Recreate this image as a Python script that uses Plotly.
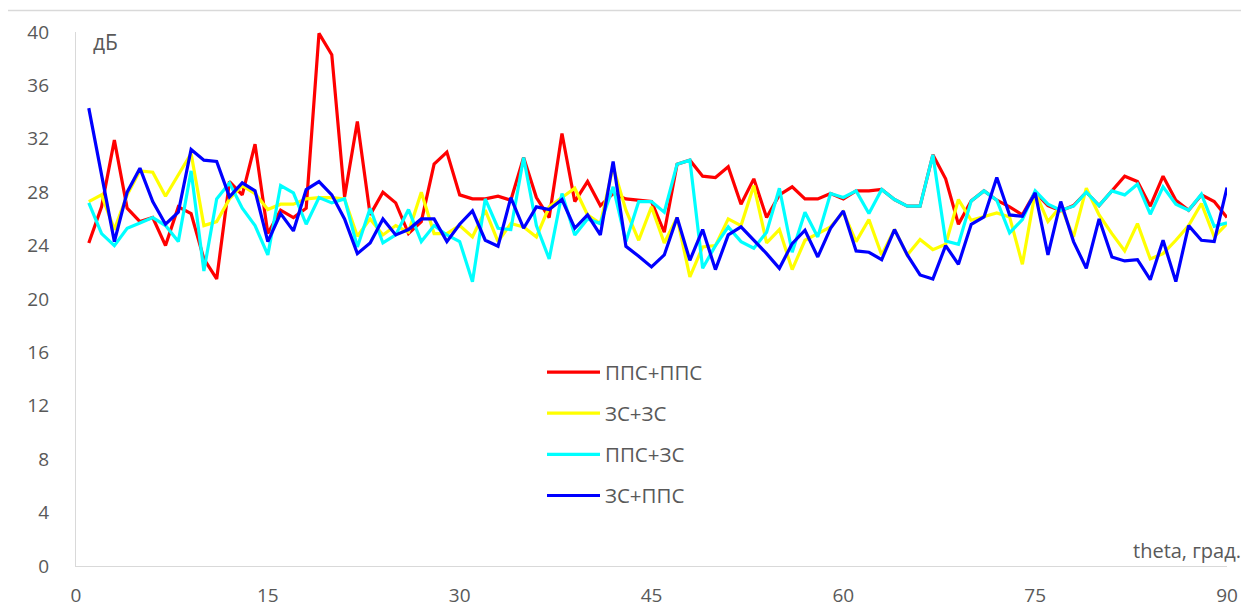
import plotly.graph_objects as go

theta = list(range(1, 91))

pps_pps = [24.2, 26.9, 31.9, 26.8, 25.8, 26.1, 24.0, 26.9, 26.4, 23.0,
           21.5, 28.8, 27.8, 31.6, 24.9, 26.65, 26.1, 26.8, 39.9, 38.3,
           27.65, 33.3, 26.3, 28.0, 27.2, 24.9, 25.8, 30.1, 31.0, 27.8,
           27.5, 27.5, 27.7, 27.4, 30.6, 27.6, 26.1, 32.4, 27.3, 28.8,
           27.0, 27.9, 27.5, 27.4, 27.3, 25.0, 30.1, 30.4, 29.2, 29.1,
           29.9, 27.1, 29.0, 26.1, 27.8, 28.4, 27.5, 27.5, 27.9, 27.5,
           28.1, 28.1, 28.2, 27.45, 26.95, 26.95, 30.8, 29.0, 25.6, 27.35,
           28.1, 27.4, 26.9, 26.3, 28.0, 27.0, 26.6, 27.0, 28.0, 27.0,
           28.1, 29.2, 28.8, 26.95, 29.2, 27.4, 26.65, 27.8, 27.3, 26.1]

zs_zs = [27.3, 27.8, 25.2, 27.8, 29.6, 29.5, 27.7, 29.3, 30.9, 25.5,
         25.8, 27.5, 28.5, 27.9, 26.7, 27.1, 27.1, 27.5, 27.6, 27.6,
         27.5, 24.7, 26.0, 24.8, 25.5, 25.0, 28.0, 24.9, 24.9, 25.5,
         24.65, 26.65, 24.3, 25.65, 25.4, 24.65, 26.9, 27.6, 28.3, 26.3,
         25.65, 29.9, 26.65, 24.4, 26.9, 24.2, 26.1, 21.65, 23.9, 24.0,
         26.0, 25.5, 28.5, 24.2, 25.2, 22.2, 24.4, 24.9, 25.4, 26.5,
         24.3, 25.95, 23.3, 25.2, 23.3, 24.45, 23.7, 24.1, 27.45, 25.9,
         26.15, 26.45, 26.15, 22.6, 28.0, 25.8, 26.95, 24.65, 28.3, 26.3,
         24.9, 23.6, 25.65, 23.0, 23.4, 24.4, 25.5, 27.15, 24.65, 25.65]

pps_zs = [27.2, 24.9, 24.0, 25.3, 25.7, 26.1, 25.5, 24.3, 29.6, 22.1,
          27.5, 28.7, 26.8, 25.5, 23.3, 28.5, 27.95, 25.6, 27.6, 27.2,
          27.5, 23.9, 26.8, 24.2, 24.8, 26.7, 24.3, 25.5, 24.8, 24.3,
          21.3, 27.5, 25.3, 25.2, 30.6, 25.5, 23.0, 27.9, 24.8, 26.0,
          25.65, 28.4, 24.3, 27.3, 27.3, 26.5, 30.1, 30.4, 22.3, 24.0,
          25.4, 24.3, 23.8, 25.0, 28.3, 23.5, 26.5, 24.65, 27.9, 27.6,
          28.1, 26.4, 28.2, 27.45, 26.95, 26.95, 30.8, 24.35, 24.1, 27.35,
          28.1, 27.4, 24.95, 25.95, 28.1, 27.1, 26.65, 26.95, 28.0, 27.0,
          28.1, 27.8, 28.6, 26.35, 28.4, 27.1, 26.65, 27.85, 25.45, 25.7]

zs_pps = [34.3, 29.3, 24.3, 28.0, 29.8, 27.3, 25.6, 26.5, 31.2, 30.4,
          30.3, 27.65, 28.7, 28.1, 24.3, 26.4, 25.1, 28.2, 28.8, 27.8,
          26.0, 23.4, 24.2, 26.0, 24.8, 25.2, 26.0, 26.0, 24.3, 25.6,
          26.6, 24.4, 23.95, 27.6, 25.3, 26.9, 26.7, 27.45, 25.3, 26.3,
          24.8, 30.3, 23.95, 23.2, 22.4, 23.3, 26.1, 22.9, 25.2, 22.2,
          24.8, 25.4, 24.4, 23.4, 22.3, 24.15, 25.15, 23.15, 25.3, 26.6,
          23.6, 23.5, 22.95, 25.2, 23.3, 21.8, 21.5, 24.0, 22.6, 25.6,
          26.15, 29.1, 26.3, 26.2, 27.95, 23.3, 27.3, 24.3, 22.3, 26.0,
          23.15, 22.85, 22.95, 21.45, 24.4, 21.3, 25.5, 24.4, 24.3, 28.35]

series_names = ["ППС+ППС", "ЗС+ЗС", "ППС+ЗС", "ЗС+ППС"]
series_values = [pps_pps, zs_zs, pps_zs, zs_pps]
series_colors = ["#ff0000", "#ffff00", "#00ffff", "#0000ff"]

x_ticks = [0, 15, 30, 45, 60, 75, 90]
y_ticks = [0, 4, 8, 12, 16, 20, 24, 28, 32, 36, 40]

FONT = "Open Sans"
GRAY = "#595959"

# page offset of the figure div (browser body margin)
OFF = 8
W, H = 1249 - OFF, 610 - OFF
# plot area in page pixels
PX0, PX1, PY0, PY1 = 76, 1227, 31.5, 566
L, R = PX0 - OFF, W - (PX1 - OFF)
T, B = PY0 - OFF, H - (PY1 - OFF)
pw = PX1 - PX0
ph = PY1 - PY0


def px(xp):
    return (xp - PX0) / pw


def py(yp):
    return (PY1 - yp) / ph


fig = go.Figure()
for name, vals, col in zip(series_names, series_values, series_colors):
    fig.add_trace(go.Scatter(x=theta, y=vals, mode="lines", name=name,
                             legendgroup=name,
                             line=dict(color=col, width=3.2)))

fig.update_layout(
    width=W, height=H,
    margin=dict(l=L, r=R, t=T, b=B, pad=0),
    paper_bgcolor="white", plot_bgcolor="white",
    font=dict(family=FONT, color=GRAY, size=19),
    showlegend=True,
    legend=dict(x=px(548 - 6), xanchor="left",
                y=py(352), yanchor="top",
                font=dict(size=20.5, color=GRAY, family=FONT),
                bgcolor="rgba(0,0,0,0)", tracegroupgap=11.5,
                itemwidth=53),
    xaxis=dict(range=[0, 90], tickvals=x_ticks, showgrid=False, zeroline=False,
               showline=True, linecolor="#d9d9d9", linewidth=1.3,
               ticks="", ticklabelstandoff=12, automargin=False,
               tickfont=dict(size=19, color=GRAY)),
    yaxis=dict(range=[0, 40], tickvals=y_ticks, showgrid=False, zeroline=False,
               showline=True, linecolor="#d9d9d9", linewidth=1.3,
               ticks="", ticklabelstandoff=22, automargin=False,
               tickfont=dict(size=19, color=GRAY)),
    annotations=[
        dict(text="дБ", xref="paper", yref="paper",
             x=px(91), y=py(42), xanchor="left", yanchor="middle",
             showarrow=False, font=dict(size=21, color=GRAY)),
        dict(text="theta, град.", xref="paper", yref="paper",
             x=px(1243), y=py(550), xanchor="right", yanchor="middle",
             showarrow=False, font=dict(size=20, color=GRAY)),
    ],
    shapes=[
        dict(type="line", xref="paper", yref="paper",
             x0=px(7), x1=px(7), y0=py(640), y1=py(10),
             line=dict(color="#d9d9d9", width=1.3)),
        dict(type="line", xref="paper", yref="paper",
             x0=px(7), x1=px(1270), y0=py(10), y1=py(10),
             line=dict(color="#d9d9d9", width=1.3)),
    ],
)

fig.write_html("out.html")
